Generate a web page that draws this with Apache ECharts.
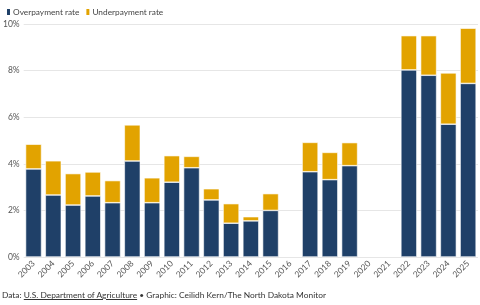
<!DOCTYPE html>
<html>
<head>
<meta charset="utf-8">
<script src="https://cdn.jsdelivr.net/npm/echarts@6/dist/echarts.min.js"></script>
<style>
  html, body { margin: 0; padding: 0; background: #fff; }
  #wrap { position: relative; width: 480px; height: 305px; }
  #main { width: 480px; height: 305px; }
  #foot { position: absolute; left: 2px; top: 290px; font: 8.4px Lato, sans-serif; color: #333; white-space: nowrap; }
  #foot u { text-decoration: underline; }
</style>
</head>
<body>
<div id="wrap">
  <div id="main"></div>
  <div id="foot">Data: <u>U.S. Department of Agriculture</u> • Graphic: Ceilidh Kern/The North Dakota Monitor</div>
</div>
<script>
// years on the x axis
var years = ['2003', '2004', '2005', '2006', '2007', '2008', '2009', '2010', '2011', '2012',
    '2013', '2014', '2015', '2016', '2017', '2018', '2019', '2020', '2021', '2022',
    '2023', '2024', '2025'];
// rates in percent, null = no data that year
var overpayment = [3.78, 2.66, 2.23, 2.62, 2.33, 4.12, 2.33, 3.21, 3.83, 2.45,
    1.45, 1.55, 2.0, null, 3.66, 3.32, 3.92, null, null, 8.03,
    7.80, 5.70, 7.45];
var underpayment = [1.06, 1.47, 1.35, 1.03, 0.95, 1.55, 1.07, 1.14, 0.49, 0.48,
    0.84, 0.18, 0.72, null, 1.26, 1.17, 0.99, null, null, 1.47,
    1.70, 2.20, 2.37];
var yTicks = [0, 2, 4, 6, 8, 10];

var chart = echarts.init(document.getElementById('main'));
var option = {
    animation: false,
    textStyle: { fontFamily: 'Lato' },
    legend: {
        left: 0,
        top: 2,
        itemWidth: 5,
        itemHeight: 8,
        itemGap: 5,
        icon: 'roundRect',
        textStyle: { fontSize: 8.3, color: '#444', padding: [0, 0, 0, -3] },
        data: ['Overpayment rate', 'Underpayment rate']
    },
    grid: { left: 23, right: 2, top: 24, bottom: 48 },
    xAxis: {
        type: 'category',
        data: years,
        axisLine: { show: false },
        axisTick: { show: false },
        axisLabel: { rotate: 45, fontSize: 8.5, color: '#555', interval: 0, margin: 5 }
    },
    yAxis: {
        type: 'value',
        min: yTicks[0],
        max: yTicks[yTicks.length - 1],
        interval: 2,
        axisLabel: { formatter: '{value}%', fontSize: 8.5, color: '#555', margin: 4 },
        splitLine: { lineStyle: { color: '#e6e6e6' } }
    },
    series: [{
        name: 'Overpayment rate',
        type: 'bar',
        stack: 'rate',
        barCategoryGap: '19%',
        itemStyle: { color: '#1f4068', borderColor: '#fff', borderWidth: 0.6 },
        data: overpayment
    }, {
        name: 'Underpayment rate',
        type: 'bar',
        stack: 'rate',
        itemStyle: { color: '#e2a300', borderColor: '#fff', borderWidth: 0.6 },
        data: underpayment
    }]
};
chart.setOption(option);
</script>
</body>
</html>
